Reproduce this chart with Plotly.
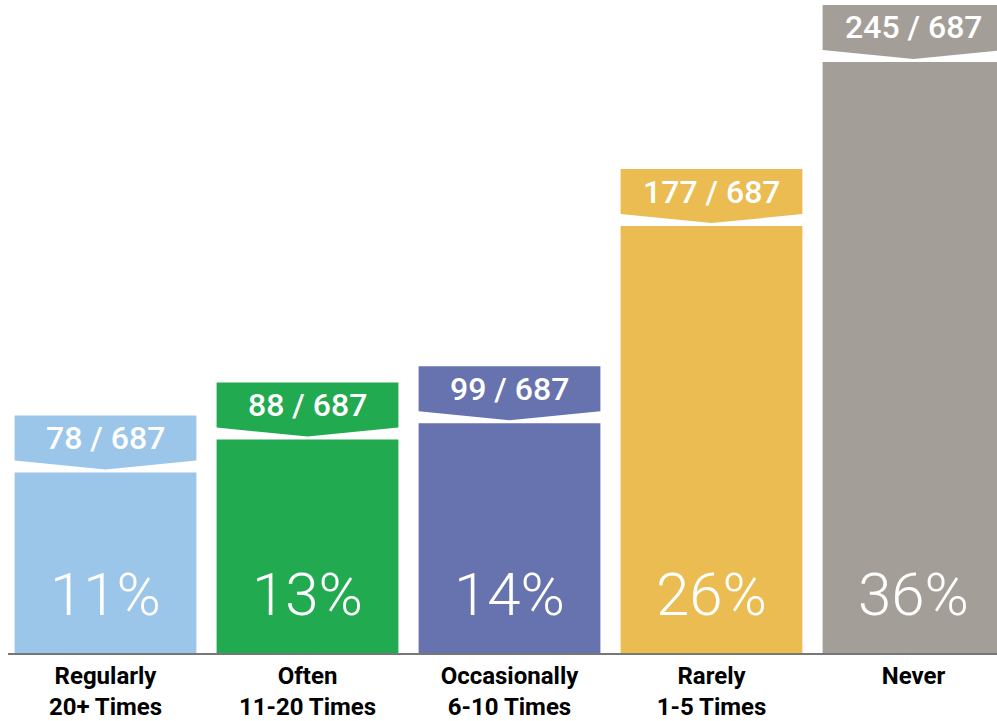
import plotly.graph_objects as go

categories = ["Regularly<br>20+ Times", "Often<br>11-20 Times", "Occasionally<br>6-10 Times",
              "Rarely<br>1-5 Times", "Never"]
counts = [78, 88, 99, 177, 245]
total = 687
percents = [11, 13, 14, 26, 36]
colors = ["#9BC6E9", "#22AA51", "#6773AE", "#EABC51", "#A49E98"]

W, H = 997, 721
ML, MR, MT, MB = 8, 0, 0, 68
plot_h = H - MT - MB
y_max = 39.77
u = y_max / plot_h  # data units per pixel
bar_w = 0.9
x_pos = list(range(len(categories)))

fig = go.Figure()
fig.add_trace(go.Bar(x=x_pos, y=percents, width=bar_w, marker=dict(color=colors, line=dict(width=0)),
                     hoverinfo="skip"))

shapes = []
annotations = []
for i, (c, p, col) in enumerate(zip(counts, percents, colors)):
    x0, x1 = i - bar_w / 2, i + bar_w / 2
    yp = p + 3 * u
    ys = p + 12 * u
    yt = p + 57 * u
    path = f"M {x0} {yt} L {x1} {yt} L {x1} {ys} L {i} {yp} L {x0} {ys} Z"
    shapes.append(dict(type="path", path=path, xref="x", yref="y", fillcolor=col,
                       line=dict(width=0), layer="above"))
    annotations.append(dict(x=i, y=p + 34.5 * u, xref="x", yref="y", text=f"{c} / {total}",
                            showarrow=False, xanchor="center", yanchor="middle",
                            font=dict(family="Roboto", size=32, color="white", weight=500)))
    annotations.append(dict(x=i, y=59 * u, xref="x", yref="y", text=f"{p}%",
                            showarrow=False, xanchor="center", yanchor="middle",
                            font=dict(family="Roboto", size=60, color="white", weight=300)))

fig.update_layout(
    width=W, height=H,
    margin=dict(l=ML, r=MR, t=MT, b=MB),
    plot_bgcolor="white", paper_bgcolor="white",
    showlegend=False,
    bargap=0.1,
    shapes=shapes,
    annotations=annotations,
    xaxis=dict(range=[-97.5 / 202, (W - ML - 97.5) / 202], tickvals=x_pos, ticktext=categories,
               showgrid=False, zeroline=False, showline=True, linecolor="#777777", linewidth=2,
               ticks="", tickfont=dict(family="Roboto", size=24, color="black", weight=700)),
    yaxis=dict(range=[0, y_max], visible=False, showgrid=False, zeroline=False),
)

fig.write_html("out.html")
